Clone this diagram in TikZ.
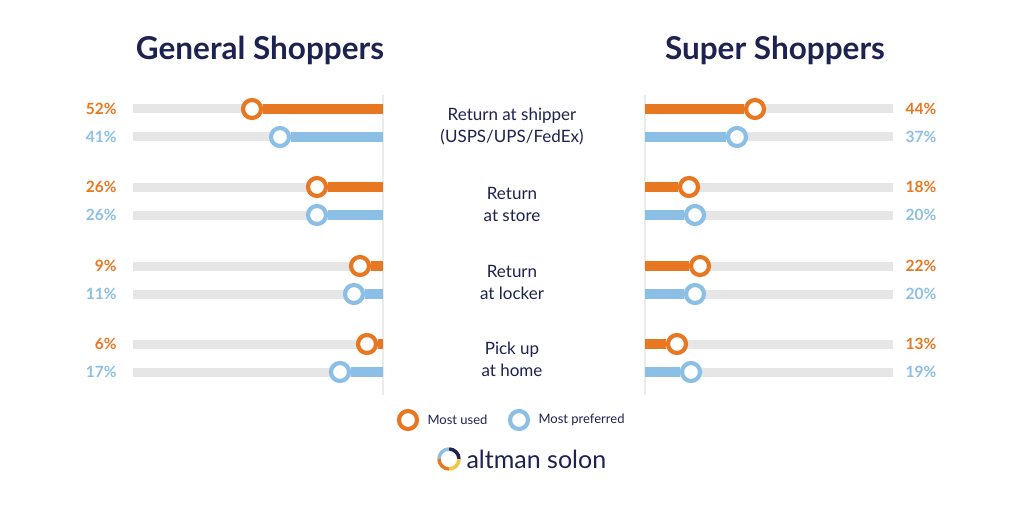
\documentclass[tikz,border=0pt]{standalone}
\usepackage{fontspec}
\setmainfont{Lato}
\definecolor{org}{HTML}{E87722}
\definecolor{blu}{HTML}{8BBFE6}
\definecolor{trk}{HTML}{E6E6E6}
\definecolor{nav}{HTML}{1E2250}
\definecolor{ylw}{HTML}{F6C445}
\begin{document}
\begin{tikzpicture}[x=1pt,y=-1pt,
  track/.style={trk,line width=9pt},
  bar/.style={line width=10pt},
  dot/.style={circle,draw,fill=white,line width=4.2pt,minimum size=18pt,inner sep=0pt},
  pctl/.style={anchor=east,font=\bfseries\fontsize{15.5}{15.5}\selectfont},
  pctr/.style={anchor=west,font=\bfseries\fontsize{15.5}{15.5}\selectfont},
  lbl/.style={align=center,text=nav,font=\fontsize{17}{22}\selectfont},
  ttl/.style={text=nav,font=\bfseries\fontsize{31.5}{31.5}\selectfont}]
\useasboundingbox (0,0) rectangle (1024,505);
\fill[white] (0,0) rectangle (1024,505);
\draw[black!8,line width=1.2pt] (383,95) -- (383,395);
\draw[black!8,line width=1.2pt] (645,95) -- (645,395);
\node[ttl] (t1) at (260,50) {General Shoppers};
\node[ttl] (t2) at (775,50) {Super Shoppers};
\foreach \y/\lx/\rx/\c/\lp/\rp [count=\i] in {
 109/252/755/org/52/44, 137/280/737/blu/41/37,
 187/317/689/org/26/18, 215/317/695/blu/26/20,
 266/360/700/org/9/22, 294/354/695/blu/11/20,
 344/367/677/org/6/13, 372/340/691/blu/17/19}{
  \coordinate (la\i) at (133,\y); \coordinate (lb\i) at (383,\y);
  \coordinate (ra\i) at (645,\y); \coordinate (rb\i) at (893,\y);
  \draw[track] (la\i) -- (lb\i);
  \draw[track] (ra\i) -- (rb\i);
  \node[dot,draw=\c] (ld\i) at (\lx,\y) {};
  \node[dot,draw=\c] (rd\i) at (\rx,\y) {};
  \draw[bar,\c] (ld\i.east) -- (lb\i);
  \draw[bar,\c] (ra\i) -- (rd\i.west);
  \node[pctl,text=\c] (lp\i) at (120,\y) {\lp\%};
  \node[pctr,text=\c] (rp\i) at (902,\y) {\rp\%};
}
\node[lbl] (c1) at (512,126) {Return at shipper\\(USPS/UPS/FedEx)};
\node[lbl] (c2) at (512,204) {Return\\at store};
\node[lbl] (c3) at (512,282) {Return\\at locker};
\node[lbl] (c4) at (512,359) {Pick up\\at home};
\node[dot,draw=org] (g1) at (408,420) {};
\node[anchor=west,text=nav,font=\fontsize{13}{13}\selectfont] (g1t) at (424,420) {Most used};
\node[dot,draw=blu] (g2) at (519,420) {};
\node[anchor=west,text=nav,font=\fontsize{13}{13}\selectfont] (g2t) at (535,420) {Most preferred};
\coordinate (lg) at (449,459);
\draw[nav,line width=3.5pt] ([shift={(0:10)}]lg) arc[start angle=0,end angle=-90,radius=10];
\draw[blu,line width=3.5pt] ([shift={(-90:10)}]lg) arc[start angle=-90,end angle=-180,radius=10];
\draw[org,line width=3.5pt] ([shift={(180:10)}]lg) arc[start angle=180,end angle=90,radius=10];
\draw[ylw,line width=3.5pt] ([shift={(90:10)}]lg) arc[start angle=90,end angle=0,radius=10];
\node[anchor=west,text=nav,font=\fontsize{25}{25}\selectfont] (lt) at (463,459) {altman solon};
\end{tikzpicture}
\end{document}
